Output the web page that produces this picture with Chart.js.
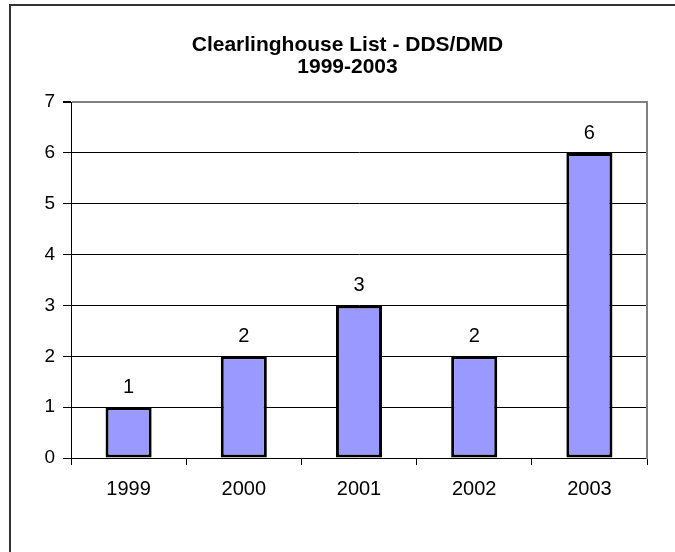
<!DOCTYPE html>
<html>
<head>
<meta charset="utf-8">
<script src="https://cdn.jsdelivr.net/npm/chart.js@4"></script>
<style>
  body { margin: 0; background: #fff; }
  #wrap { position: relative; width: 675px; height: 552px; overflow: hidden; }
  #frame { position: absolute; left: 9px; top: 4px; width: 700px; height: 600px;
           border-left: 2px solid #333; border-top: 2px solid #333; pointer-events: none; }
</style>
</head>
<body>
<div id="wrap">
  <canvas id="chart" width="675" height="552"></canvas>
  <div id="frame"></div>
</div>
<script>
var years = ['1999', '2000', '2001', '2002', '2003']; // categories
var counts = [1, 2, 3, 2, 6]; // values per year
var titleLines = ['Clearlinghouse List - DDS/DMD', '1999-2003'];
var yMax = 7;

var fontFamily = '"Liberation Sans", Arial, sans-serif';

// Value labels above each bar
var valueLabels = {
  id: 'valueLabels',
  afterDatasetsDraw: function (chart) {
    var ctx = chart.ctx;
    var meta = chart.getDatasetMeta(0);
    ctx.save();
    ctx.font = '20px ' + fontFamily;
    ctx.fillStyle = '#000';
    ctx.textAlign = 'center';
    ctx.textBaseline = 'alphabetic';
    meta.data.forEach(function (bar, i) {
      ctx.fillText(String(counts[i]), bar.x, bar.y - 14);
    });
    ctx.restore();
  }
};

var ctx = document.getElementById('chart').getContext('2d');
window.myChart = new Chart(ctx, {
  type: 'bar',
  data: {
    labels: years,
    datasets: [{
      label: 'Count',
      data: counts,
      backgroundColor: '#9999FF',
      borderColor: '#000',
      borderWidth: 3,
      borderSkipped: false,
      barPercentage: 0.4,
      categoryPercentage: 1
    }]
  },
  options: {
    responsive: false,
    animation: false,
    devicePixelRatio: 1,
    layout: { padding: { left: 40, right: 20, top: 0, bottom: 34 } },
    plugins: {
      legend: { display: false },
      tooltip: { enabled: false },
      title: {
        display: true,
        text: titleLines,
        color: '#000',
        font: { family: fontFamily, size: 21, weight: 'bold', lineHeight: 1.05 },
        padding: { top: 34, bottom: 24 }
      }
    },
    scales: {
      x: {
        offset: true,
        grid: {
          offset: true,
          drawOnChartArea: false,
          color: '#000',
          tickLength: 7
        },
        border: { color: '#000', width: 1 },
        ticks: {
          color: '#000',
          padding: 12,
          font: { family: fontFamily, size: 20 }
        },
        afterFit: function (scale) { scale.height = 60; }
      },
      y: {
        min: 0,
        max: yMax,
        grid: {
          color: function (c) { return c.tick && c.tick.value === yMax ? '#808080' : '#000'; },
          lineWidth: function (c) { return c.tick && c.tick.value === yMax ? 2 : 1; },
          tickColor: '#000',
          tickLength: 8
        },
        border: { color: '#000', width: 1 },
        ticks: {
          stepSize: 1,
          color: '#000',
          padding: 8,
          font: { family: fontFamily, size: 19 }
        },
        afterFit: function (scale) { scale.width = 31; }
      },
      // right edge of the plot area (grey border), no ticks
      y2: {
        position: 'right',
        min: 0,
        max: yMax,
        grid: { drawOnChartArea: false, drawTicks: false },
        border: { color: '#808080', width: 2 },
        ticks: { display: false },
        afterFit: function (scale) { scale.width = 8; }
      }
    }
  },
  plugins: [valueLabels]
});
</script>
</body>
</html>
